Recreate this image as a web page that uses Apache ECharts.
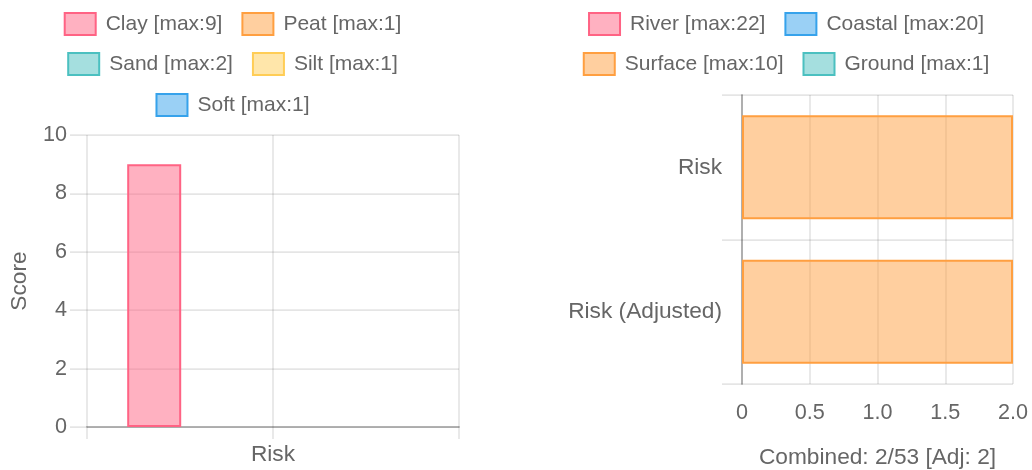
<!DOCTYPE html>
<html><head><meta charset="utf-8">
<script src="https://cdn.jsdelivr.net/npm/echarts@6/dist/echarts.min.js"></script>
<style>
html,body{margin:0;padding:0;background:#fff;width:1032px;height:470px;overflow:hidden}
#l{position:absolute;left:0;top:0;width:465px;height:470px}
#r{position:absolute;left:540px;top:0;width:492px;height:470px}
</style>
</head><body><div id="l"></div><div id="r"></div>
<script>
// ---- data ----
const soilCategories = ['Risk'];
const soilNames = ['Clay', 'Peat', 'Sand', 'Silt', 'Soft'];
const soilMax = [9, 1, 2, 1, 1];
const clayValues = [9];
const peatValues = [0];
const sandValues = [0];
const siltValues = [0];
const softValues = [0];
const scoreMin = 0, scoreMax = 10, scoreStep = 2;

const floodCategories = ['Risk', 'Risk (Adjusted)'];
const floodNames = ['River', 'Coastal', 'Surface', 'Ground'];
const floodMax = [22, 20, 10, 1];
const riverValues = [0, 0];
const coastalValues = [0, 0];
const surfaceValues = [2, 2];
const groundValues = [0, 0];
const combinedTickLabels = ['0', '0.5', '1.0', '1.5', '2.0'];
const combinedTitle = 'Combined: 2/53 [Adj: 2]';

// ---- styles ----
const FONT = "'Liberation Sans', Arial, Helvetica, sans-serif";
const TXT = '#666';
const GRID = 'rgba(0,0,0,0.1)';
const ZERO = 'rgba(0,0,0,0.25)';
const FS = 21;     // legend
const FT = 21.6;   // numeric ticks
const FC = 22.7;   // category labels and axis titles
const C = {
  pink: ['rgba(255,99,132,0.5)', 'rgb(255,99,132)'],
  orange: ['rgba(255,159,64,0.5)', 'rgb(255,159,64)'],
  teal: ['rgba(75,192,192,0.5)', 'rgb(75,192,192)'],
  yellow: ['rgba(255,205,86,0.5)', 'rgb(255,205,86)'],
  blue: ['rgba(54,162,235,0.5)', 'rgb(54,162,235)']
};
const nz = a => a.map(v => v === 0 ? null : v);
const lbl = (n, m) => n + ' [max:' + m + ']';

function legendRow(names, top) {
  return {
    data: names, top: top, left: 'center', orient: 'horizontal',
    itemWidth: 31, itemHeight: 22, itemGap: 19, icon: 'rect',
    selectedMode: false,
    textStyle: { color: TXT, fontSize: FS, fontFamily: FONT, padding: [0, 0, 0, 5] }
  };
}

// ---- left chart ----
const soilValues = [clayValues, peatValues, sandValues, siltValues, softValues];
const soilColors = [C.pink, C.orange, C.teal, C.yellow, C.blue];
const soilLabels = soilNames.map((n, i) => lbl(n, soilMax[i]));
const left = echarts.init(document.getElementById('l'));
left.setOption({
  animation: false,
  textStyle: { fontFamily: FONT },
  legend: [
    legendRow([soilLabels[0], soilLabels[1]], 7),
    legendRow([soilLabels[2], soilLabels[3]], 47),
    legendRow([soilLabels[4]], 88)
  ],
  grid: { left: 87, right: 6, top: 135, bottom: 43, outerBoundsMode: 'none', containLabel: false },
  xAxis: [
    {
      type: 'category', data: soilCategories, position: 'bottom',
      axisLine: { show: true, lineStyle: { color: ZERO, width: 2 } },
      axisTick: { show: false }, splitLine: { show: false },
      axisLabel: { color: TXT, fontSize: FC, fontFamily: FONT, margin: 16 }
    },
    {
      type: 'value', min: 0, max: 2, interval: 1, position: 'bottom',
      axisLine: { show: false }, axisLabel: { show: false },
      axisTick: { show: true, length: 12, lineStyle: { color: GRID, width: 1.75 } },
      splitLine: { show: true, lineStyle: { color: GRID, width: 1.75 } }
    }
  ],
  yAxis: {
    type: 'value', min: scoreMin, max: scoreMax, interval: scoreStep,
    name: 'Score', nameLocation: 'middle', nameGap: 56,
    nameTextStyle: { color: TXT, fontSize: FC, fontFamily: FONT },
    axisLine: { show: false },
    axisTick: { show: true, length: 17, lineStyle: { color: GRID, width: 1.75 } },
    splitLine: { show: true, lineStyle: { color: GRID, width: 1.75 } },
    axisLabel: { color: TXT, fontSize: FT, fontFamily: FONT, margin: 20 }
  },
  series: soilLabels.map((n, i) => ({
    name: n, type: 'bar', xAxisIndex: 0, yAxisIndex: 0,
    data: nz(soilValues[i]), barWidth: 54, barGap: '10%',
    itemStyle: { color: soilColors[i][0], borderColor: soilColors[i][1], borderWidth: 2 }
  }))
});

// ---- right chart ----
const floodValues = [riverValues, coastalValues, surfaceValues, groundValues];
const floodColors = [C.pink, C.blue, C.orange, C.teal];
const floodLabels = floodNames.map((n, i) => lbl(n, floodMax[i]));
const right = echarts.init(document.getElementById('r'));
right.setOption({
  animation: false,
  textStyle: { fontFamily: FONT },
  legend: [
    legendRow([floodLabels[0], floodLabels[1]], 7),
    legendRow([floodLabels[2], floodLabels[3]], 47)
  ],
  grid: { left: 202, right: 19, top: 95, bottom: 86, outerBoundsMode: 'none', containLabel: false },
  xAxis: {
    type: 'value', min: 0, max: 2, interval: 0.5,
    name: combinedTitle, nameLocation: 'middle', nameGap: 62,
    nameTextStyle: { color: TXT, fontSize: FC, fontFamily: FONT },
    axisLine: { show: false }, axisTick: { show: false },
    splitLine: { show: true, lineStyle: { color: GRID, width: 1.75 } },
    axisLabel: {
      color: TXT, fontSize: FT, fontFamily: FONT, margin: 18,
      formatter: v => combinedTickLabels[Math.round(v / 0.5)]
    }
  },
  yAxis: {
    type: 'category', data: floodCategories, inverse: true,
    axisLine: { show: true, lineStyle: { color: ZERO, width: 2 } },
    axisTick: { show: true, length: 20, lineStyle: { color: GRID, width: 1.75 } },
    splitLine: { show: true, lineStyle: { color: GRID, width: 1.75 } },
    axisLabel: { color: TXT, fontSize: FC, fontFamily: FONT, margin: 20 }
  },
  series: floodLabels.map((n, i) => ({
    name: n, type: 'bar', stack: 'total',
    data: nz(floodValues[i]), barCategoryGap: '28%',
    itemStyle: { color: floodColors[i][0], borderColor: floodColors[i][1], borderWidth: 2 }
  }))
});
</script>
</body></html>
